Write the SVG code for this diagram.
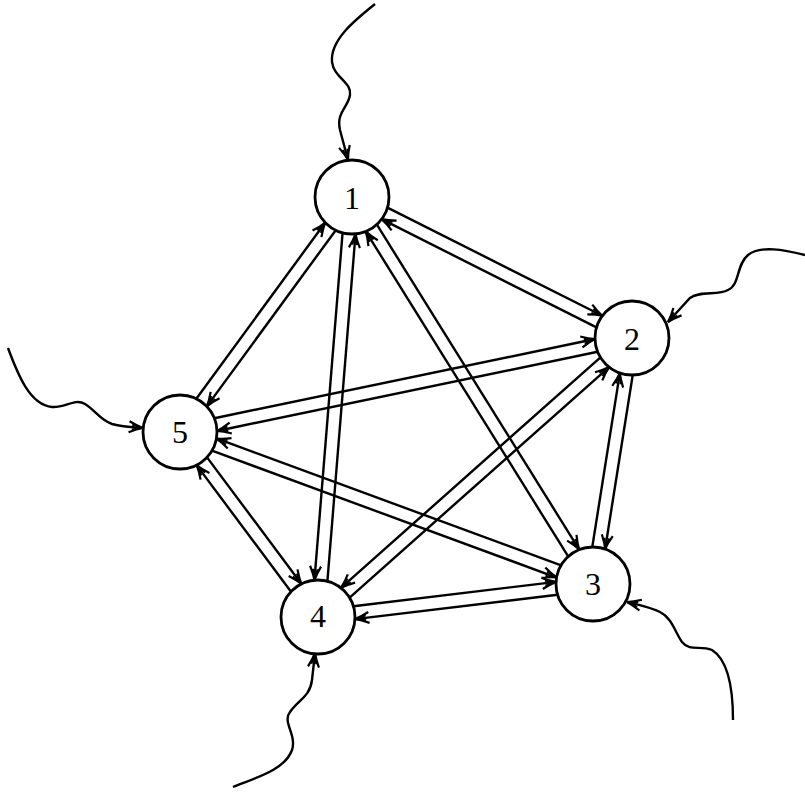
<svg xmlns="http://www.w3.org/2000/svg" width="805" height="793" viewBox="0 0 805 793">
<style>
.node circle{fill:#fff;stroke:#000;stroke-width:2.8}
.node text{font-family:"Liberation Serif","Times New Roman",serif;font-size:32px;text-anchor:middle;fill:#000}
.e line,.w path{stroke:#000;stroke-width:2.4;fill:none;marker-end:url(#ah)}
</style>
<defs>
<marker id="ah" markerUnits="userSpaceOnUse" orient="auto" overflow="visible" markerWidth="1" markerHeight="1" refX="0" refY="0">
<path d="M-14,-5.5 Q-6,-1.5 0,0 Q-6,1.5 -14,5.5 M-11,-2.5 L0,0 L-11,2.5" fill="none" stroke="#000" stroke-width="2.2"/>
</marker>
</defs>
<rect width="805" height="793" fill="#fff"/>
<g id="connectors">
<g class="e" id="e12" transform="translate(352,197) rotate(26.73)">
<line x1="36.4" y1="-6.5" x2="277" y2="-6.5"/><line x1="277" y1="6.5" x2="36.4" y2="6.5"/></g>
<g class="e" id="e13" transform="translate(352,197) rotate(58.09)">
<line x1="36.4" y1="-6.5" x2="419.4" y2="-6.5"/><line x1="419.4" y1="6.5" x2="36.4" y2="6.5"/></g>
<g class="e" id="e14" transform="translate(352,197) rotate(94.63)">
<line x1="36.4" y1="6.5" x2="384.9" y2="6.5"/><line x1="384.9" y1="-6.5" x2="36.4" y2="-6.5"/></g>
<g class="e" id="e15" transform="translate(352,197) rotate(126.2)">
<line x1="36.4" y1="-6.5" x2="254.7" y2="-6.5"/><line x1="254.7" y1="6.5" x2="36.4" y2="6.5"/></g>
<g class="e" id="e23" transform="translate(632,338) rotate(99.01)">
<line x1="36.4" y1="-6.5" x2="212.6" y2="-6.5"/><line x1="212.6" y1="6.5" x2="36.4" y2="6.5"/></g>
<g class="e" id="e24" transform="translate(632,338) rotate(138.38)">
<line x1="36.4" y1="6.5" x2="383.5" y2="6.5"/><line x1="383.5" y1="-6.5" x2="36.4" y2="-6.5"/></g>
<g class="e" id="e25" transform="translate(632,338) rotate(168.25)">
<line x1="36.4" y1="-6.5" x2="425.2" y2="-6.5"/><line x1="425.2" y1="6.5" x2="36.4" y2="6.5"/></g>
<g class="e" id="e34" transform="translate(593,584) rotate(173.16)">
<line x1="36.4" y1="-6.5" x2="240.5" y2="-6.5"/><line x1="240.5" y1="6.5" x2="36.4" y2="6.5"/></g>
<g class="e" id="e35" transform="translate(593,584) rotate(-159.79)">
<line x1="36.4" y1="6.5" x2="403.6" y2="6.5"/><line x1="403.6" y1="-6.5" x2="36.4" y2="-6.5"/></g>
<g class="e" id="e45" transform="translate(318,617) rotate(-126.72)">
<line x1="36.4" y1="-6.5" x2="194.3" y2="-6.5"/><line x1="194.3" y1="6.5" x2="36.4" y2="6.5"/></g>
<g class="w" id="inputs">
<path d="M375,4 C355,20 330,40 332,62 C334,78 352,82 350,95 C348,108 336,112 340,130 L348,160"/>
<path d="M805,255 C785,250 760,245 748,255 C736,265 740,285 728,290 C718,296 700,290 690,298 L668,322"/>
<path d="M733,720 C733,690 728,660 712,650 C700,645 690,652 682,642 C675,632 672,618 660,612 C650,607 640,605 627,602"/>
<path d="M233,787 C255,778 285,770 292,750 C297,735 282,722 290,712 C298,700 310,697 312,680 L315,653"/>
<path d="M8,348 C18,375 30,405 52,407 C65,408 75,398 85,404 C95,410 100,420 112,424 C122,427 132,427 143,428"/>
</g>
</g>
<g class="node" id="n1"><circle cx="352" cy="197" r="37"/><text x="352" y="209">1</text></g>
<g class="node" id="n2"><circle cx="632" cy="338" r="37"/><text x="632" y="350">2</text></g>
<g class="node" id="n3"><circle cx="593" cy="584" r="37"/><text x="593" y="595">3</text></g>
<g class="node" id="n4"><circle cx="318" cy="617" r="37"/><text x="318" y="627">4</text></g>
<g class="node" id="n5"><circle cx="180" cy="432" r="37"/><text x="180" y="443">5</text></g>
</svg>
